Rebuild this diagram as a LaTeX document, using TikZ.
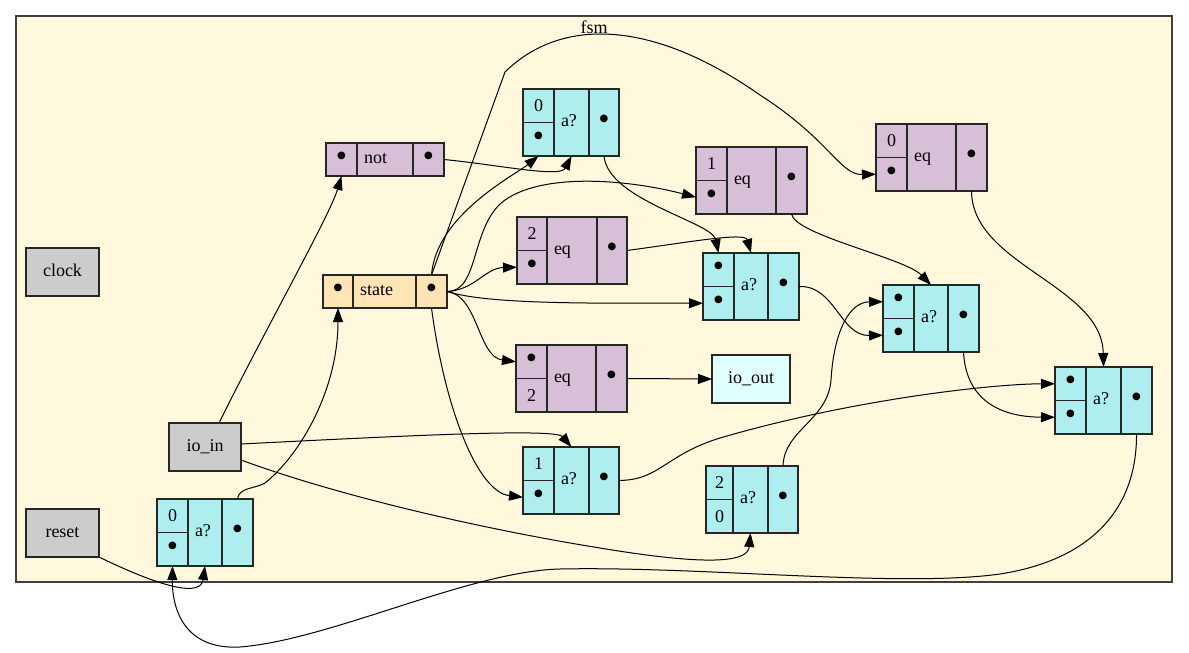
\documentclass[tikz,border=0pt]{standalone}
\usepackage{fontspec}
\setmainfont{Liberation Serif}
\usetikzlibrary{arrows.meta}

\definecolor{clusterfill}{HTML}{FFF8DC}
\definecolor{muxfill}{HTML}{AFEEEE}
\definecolor{eqfill}{HTML}{D8BFD8}
\definecolor{regfill}{HTML}{FFE4B5}
\definecolor{portfill}{HTML}{CCCCCC}
\definecolor{outfill}{HTML}{E0FFFF}

% port marker inside a record cell
\newcommand\pin{{\fontsize{32}{32}\selectfont •}}
\newcommand\muxcelllabel{a?}
\newcommand\eqcelllabel{eq}

% record with a split input column:
% name, x, y, w1, w2, w3, kind, top field, bottom field
\newcommand\splitrec[9]{%
  \node[cell,#7,minimum width=#4,minimum height=33.5] (#1-t) at (#2,#3) {#8};
  \node[cell,#7,minimum width=#4,minimum height=33.5] (#1-b) at (#2,#3+33.5) {#9};
  \node[cell,#7,word,minimum width=#5,minimum height=67,inner xsep=7pt] (#1-m) at (#2+#4,#3)
    {\makebox[\dimexpr#5pt-14pt\relax][l]{\csname #7label\endcsname}};
  \node[cell,#7,minimum width=#6,minimum height=67] (#1-o) at (#2+#4+#5,#3) {\pin};
}

% single-row record: name, x, y, w1, w2, w3, kind, label
\newcommand\flatrec[8]{%
  \node[cell,#7,minimum width=#4,minimum height=33] (#1-i) at (#2,#3) {\pin};
  \node[cell,#7,word,minimum width=#5,minimum height=33,inner xsep=7pt] (#1-m) at (#2+#4,#3)
    {\makebox[\dimexpr#5pt-14pt\relax][l]{#8}};
  \node[cell,#7,minimum width=#6,minimum height=33] (#1-o) at (#2+#4+#5,#3) {\pin};
}

\tikzset{
  cell/.style={draw=black!85, line width=1.2pt, inner sep=0pt, outer sep=0pt, anchor=north west},
  word/.style={text height=12.5pt, text depth=4pt},
  muxcell/.style={fill=muxfill},
  eqcell/.style={fill=eqfill},
  regcell/.style={fill=regfill},
  portbox/.style={draw=black!85, line width=1.2pt, inner sep=0pt, outer sep=0pt, word},
  cluster/.style={draw=black!75, line width=1.5pt, fill=clusterfill, inner sep=0pt,
    outer sep=0pt, anchor=north west},
  wire/.style={draw=black, line width=1pt, -{Triangle[length=14pt,width=10pt]}},
}

\begin{document}
\begin{tikzpicture}[x=1pt, y=-1pt, font=\fontsize{18}{20}\selectfont]
\useasboundingbox (0,0) rectangle (1189,653);

% enclosing cluster
\node[cluster, minimum width=1156, minimum height=566] (fsm) at (16,16) {};
\node[word] (fsmlabel) at (594,29) {fsm};

% plain boxes
\node[portbox, fill=portfill, minimum width=73, minimum height=48] (clock) at (62.5,272) {clock};
\node[portbox, fill=portfill, minimum width=73, minimum height=48] (reset) at (62.5,533) {reset};
\node[portbox, fill=portfill, minimum width=72, minimum height=48] (ioin) at (205,447) {io\_in};
\node[portbox, fill=outfill, minimum width=78, minimum height=48] (ioout) at (751,379) {io\_out};

% single-row records
\flatrec{not}{326}{143}{31}{56}{31}{eqcell}{not}
\flatrec{state}{323}{275}{30}{63}{31}{regcell}{state}

% split records
\splitrec{muxA}{523}{89}{31}{35}{30}{muxcell}{0}{\pin}
\splitrec{eqB}{696}{147}{31}{49}{31}{eqcell}{1}{\pin}
\splitrec{eqC}{876}{124}{31}{49}{31}{eqcell}{0}{\pin}
\splitrec{eqD}{517}{217}{30}{50}{30}{eqcell}{2}{\pin}
\splitrec{muxE}{703}{253}{31}{34}{31}{muxcell}{\pin}{\pin}
\splitrec{muxF}{883}{285}{31}{34}{31}{muxcell}{\pin}{\pin}
\splitrec{muxG}{1055}{367}{31}{35}{31}{muxcell}{\pin}{\pin}
\splitrec{eqH}{516}{345}{31}{49}{31}{eqcell}{\pin}{2}
\splitrec{muxI}{523}{447}{31}{35}{30}{muxcell}{1}{\pin}
\splitrec{muxJ}{706}{466}{27}{35}{30}{muxcell}{2}{0}
\splitrec{muxK}{157}{499}{31}{34}{31}{muxcell}{0}{\pin}

% connections
\draw[wire] ([xshift=14pt]ioin.north) .. controls (265,330) and (330,215) .. (not-i.south);
\draw[wire] (muxK-o.north) .. controls (239,487) and (255,489) .. (265,483)
  .. controls (300,455) and (338,390) .. (state-i.south);
\draw[wire] (reset.south east) .. controls (140,577) and (200,602) .. (muxK-m.south);
\draw[wire] (muxG-o.south) .. controls (1137,510) and (1090,560) .. (1000,574)
  .. controls (900,588) and (700,566) .. (560,569)
  .. controls (470,571) and (330,640) .. (240,647)
  .. controls (185,650) and (172,610) .. (muxK-b.south);

\draw[wire] (state-o.north) -- (505,72) .. controls (560,18) and (650,18) .. (760,95)
  .. controls (830,140) and (840,175) .. (eqC-b.west);
\draw[wire] (state-o.north) .. controls (436,215) and (515,175) .. (muxA-b.south);
\draw[wire] (not-o.east) .. controls (500,165) and (560,178) .. (muxA-m.south);
\draw[wire] (state-o.east) .. controls (480,292) and (470,225) .. (505,200)
  .. controls (545,172) and (630,180) .. (eqB-b.west);
\draw[wire] (state-o.east) .. controls (475,290) and (485,268) .. (eqD-b.west);
\draw[wire] (state-o.east) .. controls (490,305) and (600,303) .. (muxE-b.west);
\draw[wire] (state-o.east) .. controls (478,295) and (478,357) .. (eqH-t.west);
\draw[wire] (state-o.south) .. controls (445,410) and (478,492) .. (muxI-b.west);

\draw[wire] (muxA-o.south) .. controls (608,200) and (712,222) .. (muxE-t.north);
\draw[wire] (eqD-o.east) .. controls (690,242) and (745,232) .. (muxE-m.north);
\draw[wire] (eqB-o.south) .. controls (795,235) and (905,258) .. (muxF-m.north);
\draw[wire] (muxE-o.east) .. controls (835,285) and (840,336) .. (muxF-b.west);
\draw[wire] (muxJ-o.north) .. controls (784,430) and (828,420) .. (831,380)
  .. controls (834,330) and (850,302) .. (muxF-t.west);
\draw[wire] (eqC-o.south) .. controls (972,265) and (1102,285) .. (muxG-m.north);
\draw[wire] (muxF-o.south) .. controls (966,400) and (1000,417) .. (muxG-b.west);
\draw[wire] (muxI-o.east) .. controls (660,480) and (665,455) .. (720,438)
  .. controls (850,400) and (990,384) .. (muxG-t.west);

\draw[wire] ([yshift=3pt]ioin.east) .. controls (400,436) and (555,428) .. (muxI-m.north);
\draw[wire] ([yshift=-13pt]ioin.east) .. controls (350,500) and (500,532) .. (600,548)
  .. controls (720,568) and (748,560) .. (muxJ-m.south);
\draw[wire] (eqH-o.east) -- (ioout.west);
\end{tikzpicture}
\end{document}
